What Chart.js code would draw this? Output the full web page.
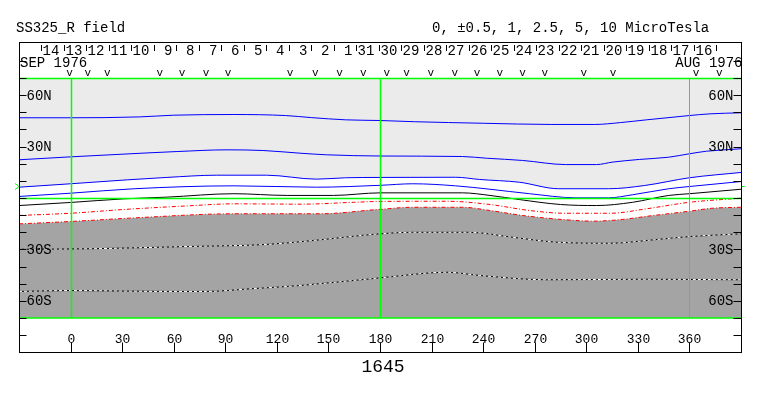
<!DOCTYPE html>
<html>
<head>
<meta charset="utf-8">
<script src="https://cdn.jsdelivr.net/npm/chart.js@4/dist/chart.umd.min.js"></script>
<style>
  html, body { margin: 0; padding: 0; background: #fff; }
</style>
</head>
<body>
<canvas id="myChart" width="763" height="396"></canvas>
<script>
// contour lines, [carrington longitude, latitude]
const blue1 = [[-30,46.8],[0,46.8],[40,47.3],[60,48.3],[95,48.7],[125,48.1],[140,46.9],[160,45.6],[180,45.2],[200,44.5],[240,43.6],[280,42.9],[305,42.9],[320,44.0],[335,45.6],[360,48.1],[372,49.1],[390,49.7]];
const blue2 = [[-30,22.3],[0,24.0],[27,25.4],[62,27.1],[91,28.1],[112,27.7],[134,26.1],[149,25.2],[180,24.5],[228,24.2],[242,23.2],[263,21.9],[288,19.5],[306,19.5],[315,20.9],[331,22.5],[348,23.8],[360,25.8],[370,27.3],[390,28.7]];
const blue3 = [[-30,6.3],[0,8.3],[33,10.6],[56,12.0],[85,13.3],[114,13.3],[143,11.0],[160,11.8],[180,12.0],[224,12.1],[238,10.8],[261,9.2],[284,5.4],[313,5.4],[334,7.3],[360,11.8],[390,14.9]];
const blue4 = [[-30,0.9],[0,2.8],[37,5.4],[95,7.1],[143,6.3],[180,7.4],[199,8.3],[224,7.1],[244,5.1],[267,2.5],[294,0.1],[313,0.1],[327,1.9],[348,5.4],[360,6.7],[390,9.6]];
const black0 = [[-30,-4.4],[0,-2.6],[31,-0.5],[56,0.5],[95,2.5],[126,1.5],[153,1.5],[180,3.0],[228,3.0],[244,1.5],[261,-0.9],[285,-3.8],[306,-4.4],[327,-2.5],[348,1.5],[360,2.5],[390,5.1]];
const red1 = [[-30,-10.2],[0,-8.9],[31,-6.7],[68,-4.6],[95,-3.4],[134,-3.6],[165,-2.5],[180,-2.0],[219,-1.9],[244,-3.8],[267,-7.3],[288,-8.9],[314,-8.9],[335,-6.3],[360,-2.5],[390,-0.1]];
const red2 = [[-30,-15.1],[0,-13.7],[37,-11.6],[95,-9.2],[145,-9.2],[180,-6.6],[199,-5.4],[228,-5.4],[244,-7.3],[263,-10.2],[288,-12.7],[304,-13.5],[319,-12.7],[339,-10.2],[360,-7.7],[373,-6.0],[390,-5.4]];
const white1 = [[-30,-29.9],[12,-29.6],[68,-28.3],[114,-27.1],[141,-24.8],[180,-20.9],[199,-20.0],[232,-20.0],[257,-22.9],[283,-25.8],[314,-26.4],[339,-24.4],[360,-22.5],[390,-20.9]];
const white2 = [[-30,-54.5],[0,-54.0],[56,-54.5],[79,-54.5],[104,-53.0],[134,-51.0],[180,-46.6],[219,-43.3],[238,-45.2],[277,-47.7],[335,-47.4],[390,-47.7]];

// axes
const lonTicks = [0, 30, 60, 90, 120, 150, 180, 210, 240, 270, 300, 330, 360];
const latTicks = [-80, -70, -60, -50, -40, -30, -20, -10, 0, 10, 20, 30, 40, 50, 60, 70, 80];
const latLabelVals = [60, 30, -30, -60];
const latLabelText = ['60N', '30N', '30S', '60S'];
const greenLons = [0, 180, 360];
const b0Lat = 6.7;

// top date strip
const days = [14,13,12,11,10,9,8,7,6,5,4,3,2,1,31,30,29,28,27,26,25,24,23,22,21,20,19,18,17,16];
const dayLons = [-17.0,-3.9,9.2,22.2,35.3,48.4,61.5,74.6,87.6,100.7,113.8,126.9,140.0,153.1,166.1,179.2,192.3,205.4,218.4,231.6,244.6,257.7,270.8,283.9,297.0,310.1,323.1,336.2,349.3,362.4,375.4];
const obsLons = [-0.6,10.0,21.3,51.9,64.9,78.8,91.6,127.7,142.3,156.4,170.3,183.9,195.5,209.6,223.5,236.5,249.7,262.9,275.8,298.5,315.5,363.9,377.4];

const rotation = '1645';
const titleLeft = 'SS325_R field';
const titleRight = '0, \u00b10.5, 1, 2.5, 5, 10 MicroTesla';

function pts(a) { return a.map(p => ({x: p[0], y: p[1]})); }

const mono = '"Liberation Mono", "DejaVu Sans Mono", monospace';

const frame = {
  id: 'frame',
  afterDraw(chart) {
    const {ctx, chartArea: a, scales: {x, y}} = chart;
    const L = 19.5, R = 741.5, T = 42.5, B = 352.5;
    ctx.save();

    // green lines
    ctx.strokeStyle = '#00ff00';
    greenLons.forEach((v, i) => {
      const px = Math.round(x.getPixelForValue(v)) + 0.5;
      ctx.lineWidth = i == 2 ? 1 : 1.5;
      ctx.beginPath(); ctx.moveTo(px, a.top); ctx.lineTo(px, a.bottom); ctx.stroke();
    });
    ctx.lineWidth = 1.5;
    const eq = Math.round(y.getPixelForValue(0)) + 0.5;
    ctx.beginPath(); ctx.moveTo(L, eq); ctx.lineTo(R, eq); ctx.stroke();
    ctx.beginPath(); ctx.moveTo(L, a.top + 0.5); ctx.lineTo(R, a.top + 0.5); ctx.stroke();
    ctx.beginPath(); ctx.moveTo(L, a.bottom); ctx.lineTo(R, a.bottom); ctx.stroke();

    // B0 marks
    const b0 = y.getPixelForValue(b0Lat);
    ctx.lineWidth = 1;
    ctx.beginPath(); ctx.moveTo(15, b0 - 3); ctx.lineTo(19, b0); ctx.lineTo(15, b0 + 3); ctx.stroke();
    ctx.beginPath(); ctx.moveTo(R, b0); ctx.lineTo(R + 3, b0); ctx.stroke();

    // frame
    ctx.strokeStyle = '#000';
    ctx.lineWidth = 1;
    ctx.strokeRect(L, T, R - L, B - T);

    // latitude ticks
    latTicks.forEach(v => {
      const py = Math.round(y.getPixelForValue(v)) + 0.5;
      ctx.beginPath(); ctx.moveTo(L, py); ctx.lineTo(L + 7, py); ctx.stroke();
      ctx.beginPath(); ctx.moveTo(R - 8, py); ctx.lineTo(R, py); ctx.stroke();
    });
    ctx.fillStyle = '#000';
    ctx.font = '14px ' + mono;
    ctx.textBaseline = 'alphabetic';
    latLabelVals.forEach((v, i) => {
      const py = y.getPixelForValue(v) + 4.5;
      ctx.textAlign = 'left';
      ctx.fillText(latLabelText[i], L + 7, py);
      ctx.textAlign = 'right';
      ctx.fillText(latLabelText[i], R - 8, py);
    });

    // bottom longitude axis
    ctx.font = '13px ' + mono;
    ctx.textAlign = 'center';
    lonTicks.forEach(v => {
      const px = Math.round(x.getPixelForValue(v)) + 0.5;
      ctx.beginPath(); ctx.moveTo(px, B); ctx.lineTo(px, B - 10); ctx.stroke();
      ctx.fillText(String(v), px, 342.5);
    });
    ctx.font = '18px ' + mono;
    ctx.fillText(rotation, x.getPixelForValue(180) + 3, 371.5);

    // day strip
    ctx.font = '14px ' + mono;
    ctx.textAlign = 'left';
    dayLons.forEach((v, i) => {
      const px = Math.round(x.getPixelForValue(v)) + 0.5;
      ctx.beginPath(); ctx.moveTo(px, 45); ctx.lineTo(px, 51); ctx.stroke();
      if (i < days.length) ctx.fillText(String(days[i]).padStart(2, ' '), px + 1, 55);
    });
    ctx.fillText('SEP 1976', 20, 67);
    ctx.textAlign = 'right';
    ctx.fillText('AUG 1976', R + 1, 67);
    ctx.font = '11px ' + mono;
    ctx.textAlign = 'center';
    obsLons.forEach(v => ctx.fillText('v', x.getPixelForValue(v), 75.5));

    // titles
    ctx.font = '14px ' + mono;
    ctx.textAlign = 'left';
    ctx.fillText(titleLeft, 16, 32);
    ctx.fillText(titleRight, 432, 32);
    ctx.restore();
  }
};

function line(data, color, extra) {
  return Object.assign({
    data: pts(data), borderColor: color, borderWidth: 1, showLine: true,
    pointRadius: 0, fill: false, cubicInterpolationMode: 'monotone'
  }, extra || {});
}

new Chart(document.getElementById('myChart'), {
  type: 'scatter',
  data: {
    datasets: [
      line(blue1, '#0000ff'),
      line(blue2, '#0000ff'),
      line(blue3, '#0000ff', {fill: 'end', backgroundColor: '#ebebeb'}),
      line(blue4, '#0000ff'),
      line(black0, '#000000'),
      line(red1, '#ff0000', {borderDash: [4, 2, 1, 2]}),
      line(red2, '#ff0000', {borderDash: [4, 2, 1, 2], fill: 'start', backgroundColor: '#a4a4a4'}),
      line(white1, '#ffffff', {borderDash: [3, 2]}),
      line(white1, '#000000'),
      line(white2, '#ffffff', {borderDash: [3, 2]}),
      line(white2, '#000000')
    ]
  },
  options: {
    responsive: false,
    devicePixelRatio: 1,
    animation: false,
    layout: { padding: { left: 19, right: 22, top: 78, bottom: 78 } },
    scales: {
      x: { type: 'linear', min: -30, max: 390, display: false },
      y: { type: 'linear', min: -70, max: 70, display: false }
    },
    plugins: {
      legend: { display: false },
      tooltip: { enabled: false },
      filler: { drawTime: 'beforeDatasetsDraw' }
    }
  },
  plugins: [frame]
});
</script>
</body>
</html>
